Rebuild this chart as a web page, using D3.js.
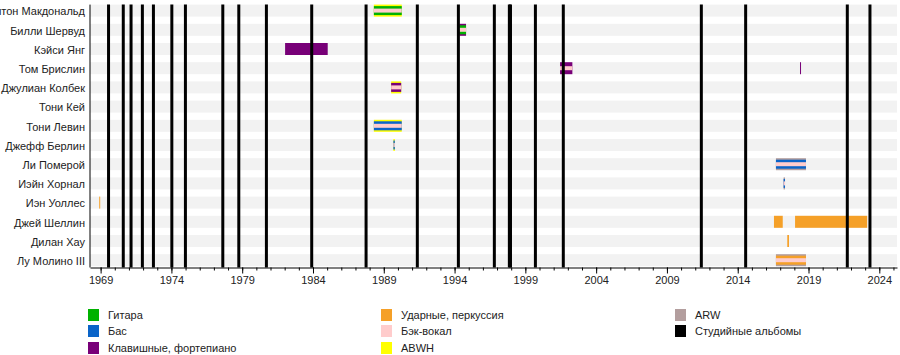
<!DOCTYPE html>
<html><head><meta charset="utf-8">
<script src="https://cdn.jsdelivr.net/npm/d3@7"></script>
<style>
html,body{margin:0;padding:0;background:#fff;}
svg{display:block;font-family:"Liberation Sans",Arial,Helvetica,sans-serif;}
</style></head>
<body><svg id="c" width="900" height="355"></svg>
<script>
// ---- data ----
const members = ["Милтон Макдональд","Билли Шервуд","Кэйси Янг","Том Брислин","Джулиан Колбек","Тони Кей","Тони Левин","Джефф Берлин","Ли Померой","Иэйн Хорнал","Иэн Уоллес","Джей Шеллин","Дилан Хау","Лу Молино III"];

const segMember = ["Милтон Макдональд","Билли Шервуд","Кэйси Янг","Том Брислин","Том Брислин","Джулиан Колбек","Тони Левин","Джефф Берлин","Ли Померой","Иэйн Хорнал","Иэн Уоллес","Джей Шеллин","Джей Шеллин","Дилан Хау","Лу Молино III"];
const segStart  = [1988.30, 1994.34, 1982.03, 2001.45, 2018.40, 1989.52, 1988.30, 1989.68, 2016.70, 2017.24, 1968.90, 2016.56, 2018.05, 2017.50, 2016.70];
const segEnd    = [1990.27, 1994.81, 1985.04, 2002.32, 2018.47, 1990.23, 1990.27, 1989.78, 2018.82, 2017.34, 1968.97, 2017.18, 2023.14, 2017.62, 2018.82];
const segRoles  = [
  ["abwh","guitar","vocals"],
  ["keys","guitar","vocals"],
  ["keys"],
  ["keys","vocals"],
  ["keys"],
  ["abwh","keys","vocals"],
  ["abwh","bass","vocals"],
  ["abwh","bass","vocals"],
  ["arw","bass","vocals"],
  ["arw","bass","vocals"],
  ["drums"],
  ["drums"],
  ["drums"],
  ["drums"],
  ["arw","drums","vocals"]
];

const albums = [1969.56,1970.60,1971.15,1971.95,1972.73,1974.03,1974.99,1977.63,1978.76,1980.71,1983.91,1987.75,1991.37,1994.27,1996.81,1997.87,1997.95,1999.71,2001.68,2011.43,2014.56,2021.74,2023.34];

const majorTicks = [1969,1974,1979,1984,1989,1994,1999,2004,2009,2014,2019,2024];
const minorTicks = d3.range(1969, 2026);

const legendKeys   = ["guitar","bass","keys","drums","vocals","abwh","arw","albums"];
const legendLabels = ["Гитара","Бас","Клавишные, фортепиано","Ударные, перкуссия","Бэк-вокал","ABWH","ARW","Студийные альбомы"];
const roleColors = {guitar:"#00b200", bass:"#0a64c8", keys:"#780078", drums:"#f5a028", vocals:"#ffcccc", abwh:"#ffff00", arw:"#b39e9e", albums:"#000000"};

// ---- layout ----
(function(){
const svg = d3.select("#c");
const pLeft = 90, pRight = 897, pTop = 1.0, pBottom = 269.8, axisY = 267.5;

const x = d3.scaleLinear().domain([1968.25, 2025.25]).range([pLeft, pRight]);
const y = d3.scaleBand().domain(members).range([pTop, pBottom]).paddingInner(0.375).paddingOuter(0.1875);
const bw = y.bandwidth();

// row stripes
svg.append("g").selectAll("rect").data(members).join("rect")
  .attr("x", pLeft).attr("width", pRight - pLeft)
  .attr("y", d => y(d)).attr("height", bw)
  .attr("fill", "#f2f2f2");

// bars
const segs = segMember.map((m,i) => ({m, s:segStart[i], e:segEnd[i], roles:segRoles[i]}));
const heightsFor = n => n === 1 ? [bw] : n === 2 ? [bw, 4] : [bw, 9, 4];
const barG = svg.append("g");
segs.forEach(sg => {
  const hs = heightsFor(sg.roles.length);
  const cy = y(sg.m) + bw/2;
  sg.roles.forEach((r,k) => {
    barG.append("rect")
      .attr("x", x(sg.s)).attr("width", Math.max(1, x(sg.e) - x(sg.s)))
      .attr("y", cy - hs[k]/2).attr("height", hs[k])
      .attr("fill", roleColors[r]);
  });
});

// album lines
svg.append("g").selectAll("line").data(albums).join("line")
  .attr("x1", d => x(d)).attr("x2", d => x(d))
  .attr("y1", y(members[0])).attr("y2", axisY)
  .attr("stroke", "#000").attr("stroke-width", 3);

// left axis line
svg.append("line").attr("x1", pLeft).attr("x2", pLeft).attr("y1", y(members[0])).attr("y2", axisY)
  .attr("stroke", "#000").attr("stroke-width", 1);

// row labels
svg.append("g").selectAll("text").data(members).join("text")
  .attr("x", pLeft - 5).attr("y", d => y(d) + bw/2 + 1)
  .attr("dy", "0.35em").attr("text-anchor", "end")
  .attr("font-size", 11).attr("fill", "#222")
  .text(d => d);

// x axis
const gMinor = svg.append("g").attr("transform", `translate(0,${axisY})`)
  .call(d3.axisBottom(x).tickValues(minorTicks).tickSize(3).tickFormat(""));
gMinor.select(".domain").remove();
const gMajor = svg.append("g").attr("transform", `translate(0,${axisY})`)
  .call(d3.axisBottom(x).tickValues(majorTicks).tickSize(6).tickSizeOuter(0).tickFormat(d3.format("d")));
gMajor.selectAll("text").attr("font-size", 11).attr("fill", "#222").attr("font-family", "Liberation Sans, Arial, sans-serif");
svg.selectAll(".tick line").attr("stroke", "#000");
gMajor.select(".domain").attr("stroke", "#000");

// legend
const legX = [88, 381, 675], legY = [315, 331, 348];
const legend = svg.append("g");
legendKeys.forEach((k,i) => {
  const col = Math.floor(i/3), row = i % 3;
  const g = legend.append("g");
  g.append("rect").attr("x", legX[col]).attr("y", legY[row] - 6).attr("width", 11).attr("height", 12)
    .attr("fill", roleColors[k]);
  g.append("text").attr("x", legX[col] + 20).attr("y", legY[row]).attr("dy", "0.35em")
    .attr("font-size", 11).attr("fill", "#222").text(legendLabels[i]);
});
})();
</script></body></html>
